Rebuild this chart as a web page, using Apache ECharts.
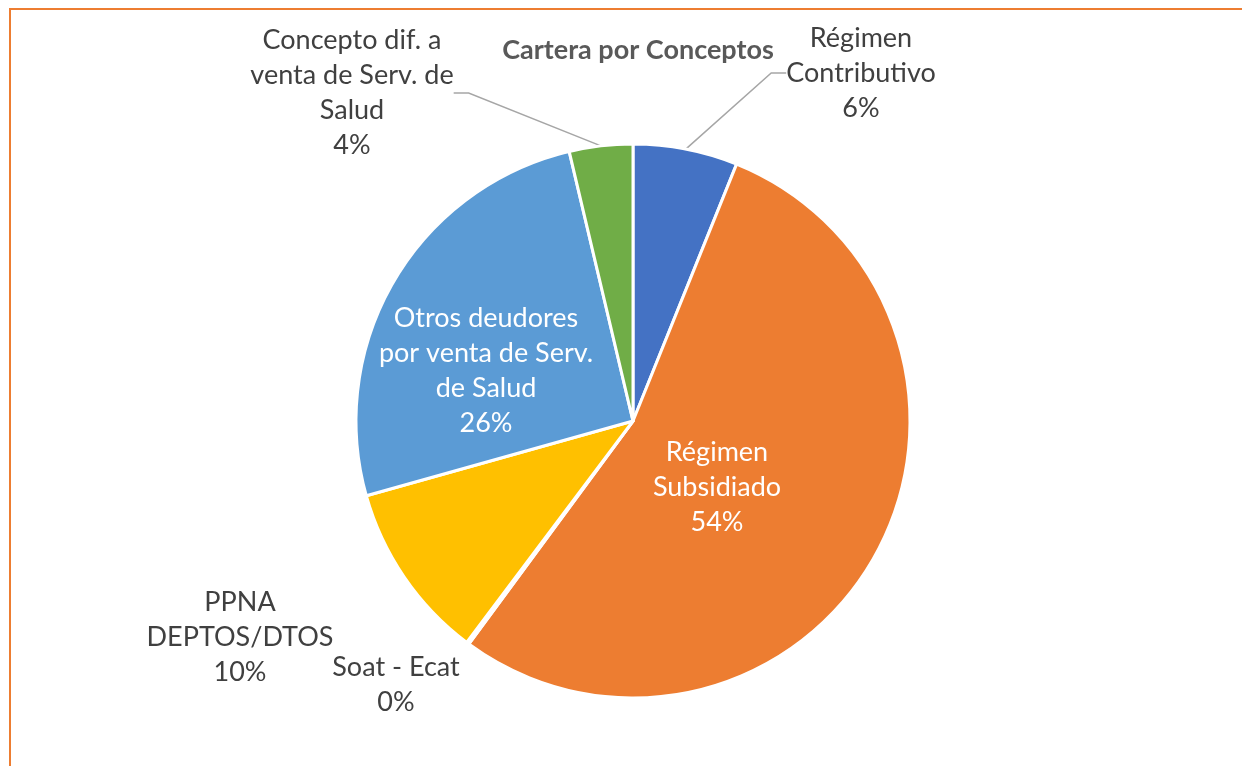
<!DOCTYPE html>
<html>
<head>
<meta charset="utf-8">
<script src="https://cdn.jsdelivr.net/npm/echarts@6/dist/echarts.min.js"></script>
<style>
html,body{margin:0;padding:0;background:#fff;}
#main{width:1242px;height:766px;}
</style>
</head>
<body>
<div id="main"></div>
<script>
// datos de la cartera (porcentaje aproximado)
var categories = [
	'Régimen\nContributivo',
	'Régimen\nSubsidiado',
	'Soat - Ecat',
	'PPNA\nDEPTOS/DTOS',
	'Otros deudores\npor venta de Serv.\nde Salud',
	'Concepto dif. a\nventa de Serv. de\nSalud'
];
var values = [6.1, 54.0, 0.15, 10.4, 25.65, 3.7];
var colors = ['#4472C4', '#ED7D31', '#A5A5A5', '#FFC000', '#5B9BD5', '#70AD47'];

// posicion de etiquetas (centro), como en el grafico original
var labelPos = [[861, 73], [717, 487], [396, 685], [240, 637], [486, 371], [352, 93]];
var insideLabel = [false, true, false, false, true, false];
var showLine = [true, false, false, false, false, true];

var pieData = [];
for (var i = 0; i < categories.length; i++) {
	pieData.push({
		name: categories[i],
		value: values[i],
		itemStyle: {color: colors[i]},
		label: {color: insideLabel[i] ? '#ffffff' : '#404040'},
		labelLine: {show: showLine[i]}
	});
}

var myChart = echarts.init(document.getElementById('main'));
var option = {
	animation: false,
	title: {
		text: 'Cartera por Conceptos',
		left: 633,
		top: 32,
		textAlign: 'center',
		textStyle: {
			fontFamily: 'Lato',
			fontWeight: 'bold',
			fontSize: 27,
			color: '#595959'
		}
	},
	graphic: [{
		type: 'rect',
		shape: {x: 10, y: 9, width: 1300, height: 800},
		style: {fill: 'none', stroke: '#ED7D31', lineWidth: 2},
		silent: true
	}],
	series: [{
		type: 'pie',
		center: [633, 421],
		radius: [0, 277],
		startAngle: 90,
		clockwise: true,
		percentPrecision: 0,
		minAngle: 0,
		itemStyle: {borderColor: '#ffffff', borderWidth: 3},
		label: {
			show: true,
			formatter: '{b}\n{d}%',
			fontFamily: 'Lato',
			fontSize: 27,
			lineHeight: 35,
			align: 'center'
		},
		labelLine: {
			show: true,
			length: 20,
			length2: 15,
			lineStyle: {color: '#A6A6A6', width: 1.5}
		},
		labelLayout: function (params) {
			var p = labelPos[params.dataIndex];
			return {
				x: p[0],
				y: p[1],
				align: 'center',
				verticalAlign: 'middle'
			};
		},
		data: pieData
	}]
};
myChart.setOption(option);
</script>
</body>
</html>
